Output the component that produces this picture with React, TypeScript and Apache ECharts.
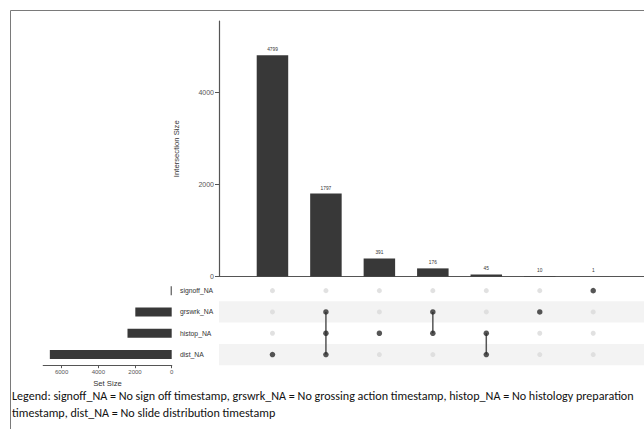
import React, { useEffect, useRef } from "react";
import * as echarts from "echarts";

const setNames = ["signoff_NA", "grswrk_NA", "histop_NA", "dist_NA"];
const setSizes = [1, 1983, 2409, 6641];
const intersectionSizes = [4799, 1797, 391, 176, 45, 10, 1];
const intersectionMembers: string[][] = [
  ["dist_NA"],
  ["grswrk_NA", "histop_NA", "dist_NA"],
  ["histop_NA"],
  ["grswrk_NA", "histop_NA"],
  ["histop_NA", "dist_NA"],
  ["grswrk_NA"],
  ["signoff_NA"],
];
const intersectionTicks = [0, 2000, 4000];
const setSizeTicks = [0, 2000, 4000, 6000];
const legendLines = [
  "Legend: signoff_NA = No sign off timestamp, grswrk_NA = No grossing action timestamp, histop_NA = No histology preparation",
  "timestamp, dist_NA = No slide distribution timestamp",
];

const FONT = "'Liberation Sans', Arial, sans-serif";

export default function App() {
  const ref = useRef<HTMLDivElement>(null);
  useEffect(() => {
    if (!ref.current) return;
    const chart = echarts.init(ref.current, null, { renderer: "svg" });

    const greyDots: any[] = [];
    const darkDots: any[] = [];
    const links: any[] = [];
    intersectionMembers.forEach((members, i) => {
      const x = i + 1;
      setNames.forEach((s) => {
        if (members.includes(s)) darkDots.push([x, s]);
        else greyDots.push([x, s]);
      });
      if (members.length > 1) {
        const idx = members.map((m) => setNames.indexOf(m));
        links.push([x, Math.min(...idx), Math.max(...idx)]);
      }
    });

    const option: any = {
      animation: false,
      textStyle: { fontFamily: FONT },
      grid: [
        { left: 219, right: 0, top: 21, height: 255.5 },
        { left: 219, right: 0, top: 280, height: 85.2 },
        { left: 43.25, width: 128.45, top: 280, height: 85.2 },
      ],
      xAxis: [
        {
          gridIndex: 0,
          type: "value",
          min: 0,
          max: 7.95,
          axisLine: { show: true, lineStyle: { color: "#555", width: 1.2 } },
          axisTick: { show: false },
          axisLabel: { show: false },
          splitLine: { show: false },
        },
        {
          gridIndex: 1,
          type: "value",
          min: 0,
          max: 7.95,
          show: false,
          splitLine: { show: false },
        },
        {
          gridIndex: 2,
          type: "value",
          min: 0,
          max: 7000,
          inverse: true,
          axisLine: { show: true, lineStyle: { color: "#555", width: 1.2 } },
          axisTick: {
            show: true,
            length: 3,
            customValues: setSizeTicks,
            lineStyle: { color: "#555" },
          },
          axisLabel: {
            customValues: setSizeTicks,
            formatter: (v: number) => String(v),
            fontSize: 6,
            fontFamily: FONT,
            color: "#555",
            margin: 4,
          },
          splitLine: { show: false },
          name: "Set Size",
          nameLocation: "middle",
          nameGap: 14,
          nameTextStyle: { fontSize: 7.7, color: "#333", fontFamily: FONT },
        },
      ],
      yAxis: [
        {
          gridIndex: 0,
          type: "value",
          min: 0,
          max: 5540,
          axisLine: { show: true, lineStyle: { color: "#555", width: 1.2 } },
          axisTick: {
            show: true,
            length: 4,
            customValues: intersectionTicks,
            lineStyle: { color: "#555" },
          },
          axisLabel: {
            customValues: intersectionTicks,
            formatter: (v: number) => String(v),
            fontSize: 7,
            fontFamily: FONT,
            color: "#555",
            margin: 5,
          },
          splitLine: { show: false },
          name: "Intersection Size",
          nameLocation: "middle",
          nameGap: 39,
          nameTextStyle: { fontSize: 7.7, color: "#333", fontFamily: FONT },
        },
        {
          gridIndex: 1,
          type: "category",
          data: setNames,
          inverse: true,
          axisLine: { show: false },
          axisTick: { show: false },
          axisLabel: {
            align: "left",
            margin: 39,
            fontSize: 6.8,
            fontFamily: FONT,
            color: "#333",
          },
          splitLine: { show: false },
          splitArea: {
            show: true,
            areaStyle: { color: ["rgba(255,255,255,0)", "#f3f3f3"] },
          },
        },
        {
          gridIndex: 2,
          type: "category",
          data: setNames,
          inverse: true,
          show: false,
        },
      ],
      series: [
        {
          type: "bar",
          xAxisIndex: 0,
          yAxisIndex: 0,
          data: intersectionSizes.map((v, i) => [i + 1, v]),
          barWidth: 31.5,
          itemStyle: { color: "#383838" },
          label: {
            show: true,
            position: "top",
            distance: 3,
            fontSize: 4.8,
            fontFamily: FONT,
            color: "#333",
            formatter: (p: any) => String(p.value[1]),
          },
        },
        {
          type: "scatter",
          xAxisIndex: 1,
          yAxisIndex: 1,
          data: greyDots,
          symbolSize: 5,
          itemStyle: { color: "#d9d9d9" },
          z: 2,
        },
        {
          type: "custom",
          xAxisIndex: 1,
          yAxisIndex: 1,
          data: links,
          z: 3,
          renderItem: (params: any, api: any) => {
            const p1 = api.coord([api.value(0), api.value(1)]);
            const p2 = api.coord([api.value(0), api.value(2)]);
            return {
              type: "line",
              shape: { x1: p1[0], y1: p1[1], x2: p2[0], y2: p2[1] },
              style: { stroke: "#555", lineWidth: 1.5 },
            };
          },
        },
        {
          type: "scatter",
          xAxisIndex: 1,
          yAxisIndex: 1,
          data: darkDots,
          symbolSize: 5.5,
          itemStyle: { color: "#2b2b2b" },
          z: 4,
        },
        {
          type: "bar",
          xAxisIndex: 2,
          yAxisIndex: 2,
          data: setSizes,
          barWidth: 9,
          barMinHeight: 1,
          itemStyle: { color: "#383838" },
        },
      ],
      graphic: [
        {
          type: "rect",
          shape: { x: 10.5, y: 10.5, width: 700, height: 500 },
          style: { fill: "none", stroke: "#7a7a7a", lineWidth: 1 },
          silent: true,
        },
        ...legendLines.map((t, i) => ({
          type: "text",
          x: 12,
          y: 395 + i * 17,
          style: {
            text: t,
            fontSize: 12.1,
            fontFamily: "Carlito, Lato, 'Open Sans', sans-serif",
            fill: "#111",
            verticalAlign: "middle",
            align: "left",
          },
          silent: true,
        })),
      ],
    };
    chart.setOption(option);
    return () => chart.dispose();
  }, []);
  return (
    <div
      ref={ref}
      style={{
        position: "fixed",
        left: 0,
        top: 0,
        width: 644,
        height: 429,
        background: "#fff",
      }}
    />
  );
}
